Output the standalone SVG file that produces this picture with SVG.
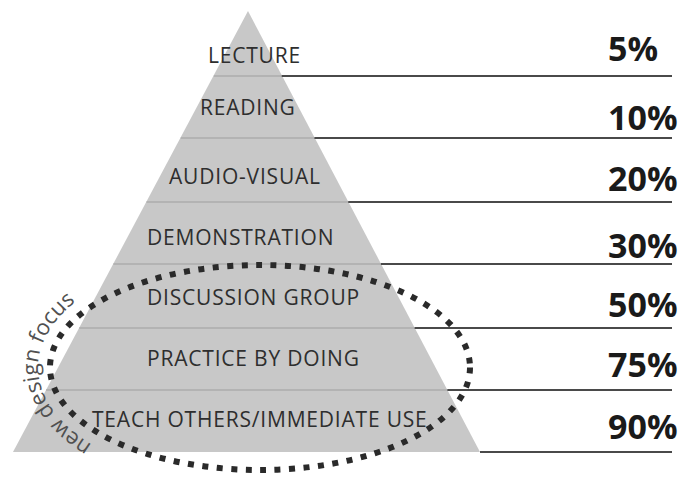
<svg xmlns="http://www.w3.org/2000/svg" width="683" height="477" viewBox="0 0 683 477">
<defs>
<style>
.lbl{font-family:"Open Sans","Noto Sans",sans-serif;font-size:21px;letter-spacing:0.8px;fill:#2e2e2e}
.pct{font-family:"Open Sans","Noto Sans",sans-serif;font-size:34px;font-weight:bold;fill:#1a1a1a}
.sep{stroke:#acacac;stroke-width:1.5}
.rule{stroke:#4a4a4a;stroke-width:2}
.focus{font-family:"Open Sans","Noto Sans",sans-serif;font-size:22px;fill:#505050}
</style>
<path id="arc" d="M 92 444.6 A 222 118 0 0 1 135 270"/>
</defs>
<rect width="683" height="477" fill="#fff"/>
<g id="pyramid">
<polygon points="248,11 480,452 13,452" fill="#c8c8c8"/>
<line class="sep" x1="213.8" y1="76" x2="281.7" y2="76"/>
<line class="sep" x1="180.7" y1="138" x2="314.4" y2="138"/>
<line class="sep" x1="146.5" y1="202" x2="348.2" y2="202"/>
<line class="sep" x1="113.4" y1="264" x2="380.9" y2="264"/>
<line class="sep" x1="79.2" y1="328" x2="414.6" y2="328"/>
<line class="sep" x1="46.1" y1="390" x2="447.3" y2="390"/>
</g>
<g id="connectors">
<line class="rule" x1="281.7" y1="76" x2="672" y2="76"/>
<line class="rule" x1="314.4" y1="138" x2="672" y2="138"/>
<line class="rule" x1="348.2" y1="202" x2="672" y2="202"/>
<line class="rule" x1="380.9" y1="264" x2="672" y2="264"/>
<line class="rule" x1="414.6" y1="328" x2="672" y2="328"/>
<line class="rule" x1="447.3" y1="390" x2="672" y2="390"/>
<line class="rule" x1="480" y1="452" x2="672" y2="452"/>
</g>
<g id="lecture"><text class="lbl" x="208" y="63">LECTURE</text><text class="pct" x="608" y="61">5%</text></g>
<g id="reading"><text class="lbl" x="200" y="115">READING</text><text class="pct" x="608" y="130">10%</text></g>
<g id="audio-visual"><text class="lbl" x="169" y="184">AUDIO-VISUAL</text><text class="pct" x="608" y="191">20%</text></g>
<g id="demonstration"><text class="lbl" x="147" y="245">DEMONSTRATION</text><text class="pct" x="608" y="258">30%</text></g>
<g id="discussion"><text class="lbl" x="147" y="305">DISCUSSION GROUP</text><text class="pct" x="608" y="317">50%</text></g>
<g id="practice"><text class="lbl" x="147" y="366">PRACTICE BY DOING</text><text class="pct" x="608" y="377">75%</text></g>
<g id="teach"><text class="lbl" x="92" y="427">TEACH OTHERS/IMMEDIATE USE</text><text class="pct" x="608" y="439">90%</text></g>
<g id="focus-zone">
<ellipse cx="260" cy="367.5" rx="210" ry="102.5" fill="none" stroke="#2a2a2a" stroke-width="6" stroke-dasharray="6 8.5"/>
<text class="focus"><textPath href="#arc">new design focus</textPath></text>
</g>
</svg>
